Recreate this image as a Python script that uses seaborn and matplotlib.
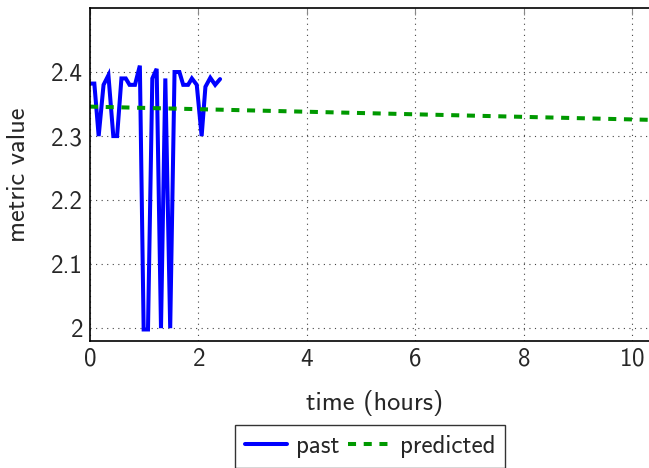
import matplotlib
matplotlib.use("Agg")
import matplotlib.pyplot as plt
import seaborn as sns
import pandas as pd

# observed metric, sampled roughly every five minutes
past_time = [0.00, 0.08, 0.16, 0.25, 0.34, 0.43, 0.50, 0.58, 0.66, 0.73,
             0.83, 0.92, 0.99, 1.07, 1.15, 1.23, 1.31, 1.39, 1.48, 1.56,
             1.65, 1.72, 1.81, 1.88, 1.97, 2.06, 2.13, 2.22, 2.31, 2.40]
past_value = [2.382, 2.382, 2.300, 2.380, 2.395, 2.300, 2.300, 2.390, 2.390, 2.380,
              2.380, 2.410, 1.998, 1.998, 2.390, 2.405, 2.000, 2.390, 2.000, 2.400,
              2.400, 2.380, 2.380, 2.390, 2.380, 2.300, 2.377, 2.391, 2.380, 2.389]

# forecast of the metric
pred_time = [0.0, 10.5]
pred_value = [2.346, 2.325]

x_ticks = [0, 2, 4, 6, 8, 10]
y_ticks = [2.0, 2.1, 2.2, 2.3, 2.4]
y_tick_labels = ["2", "2.1", "2.2", "2.3", "2.4"]

sns.set_style("white")
plt.rcParams["font.family"] = ["cmss10", "DejaVu Sans"]
plt.rcParams["axes.formatter.use_mathtext"] = True
plt.rcParams["axes.unicode_minus"] = False

past_df = pd.DataFrame({"time": past_time, "value": past_value})
pred_df = pd.DataFrame({"time": pred_time, "value": pred_value})

fig = plt.figure(figsize=(6.49, 4.68), dpi=100)
ax = fig.add_axes([90 / 649, 127 / 468, 569 / 649, 333 / 468])

sns.lineplot(data=past_df, x="time", y="value", ax=ax, color="#0000ff",
             linewidth=2.9, label="past", solid_joinstyle="miter")
sns.lineplot(data=pred_df, x="time", y="value", ax=ax, color="#009900",
             linewidth=2.9, linestyle=(0, (2.0, 1.9)), dash_capstyle="butt",
             label="predicted")

ax.set_xlim(0, 10.5)
ax.set_ylim(1.98, 2.5)
ax.set_xticks(x_ticks)
ax.set_yticks(y_ticks)
ax.set_yticklabels(y_tick_labels)

ax.grid(True, which="major", linestyle=(0, (1, 4)), color="#444444", linewidth=0.8)
ax.tick_params(direction="in", length=5, width=0.8, color="#888888",
               labelsize=18, pad=5, top=True, right=True)
for s in ax.spines.values():
    s.set_edgecolor("black")
    s.set_linewidth(1.2)

ax.set_xlabel("time (hours)", fontsize=19, labelpad=14)
ax.set_ylabel("metric value", fontsize=19, labelpad=15)

ax.get_legend().remove()
handles, labels = ax.get_legend_handles_labels()
leg = fig.legend(handles, labels, loc="upper center", ncol=2,
                 bbox_to_anchor=(370 / 649, 43 / 468), fontsize=18,
                 frameon=True, fancybox=False, edgecolor="black",
                 handlelength=1.7, handletextpad=0.35, columnspacing=0.35,
                 borderpad=0.4, borderaxespad=0)
leg.get_frame().set_linewidth(1.0)

fig.savefig("out.png", dpi=100)
